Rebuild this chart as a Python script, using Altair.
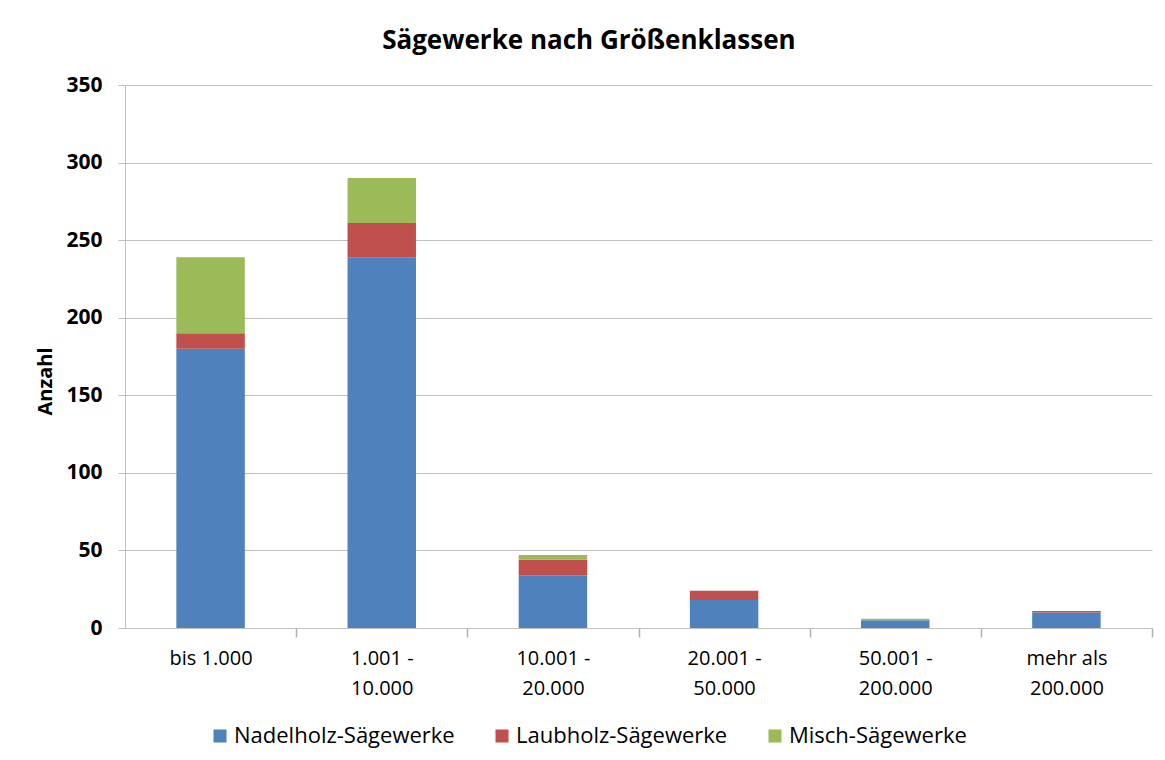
import altair as alt
import pandas as pd

categories = ["bis 1.000", "1.001 -\n10.000", "10.001 -\n20.000",
              "20.001 -\n50.000", "50.001 -\n200.000", "mehr als\n200.000"]
series = ["Nadelholz-Sägewerke", "Laubholz-Sägewerke", "Misch-Sägewerke"]
nadelholz = [180, 239, 34, 18, 5, 10]
laubholz = [10, 22, 10, 6, 0, 1]
misch = [49, 29, 3, 0, 1, 0]
colors = ["#4F81BD", "#C0504D", "#9BBB59"]

rows = []
for i, c in enumerate(categories):
    for k, (s, vals) in enumerate(zip(series, [nadelholz, laubholz, misch])):
        rows.append({"Klasse": c, "Typ": s, "Anzahl": vals[i], "ord": k})
df = pd.DataFrame(rows)

FONT = "Open Sans"
GRID = "#BFBFBF"
W = 1027
STEP = W / len(categories)

chart = alt.Chart(df).mark_bar().encode(
    x=alt.X("Klasse:N", sort=categories, title=None,
            scale=alt.Scale(paddingInner=0.6, paddingOuter=0.3),
            axis=alt.Axis(labelExpr="split(datum.label, '\\n')", labelAngle=0,
                          ticks=True, tickOffset=STEP / 2, labelOffset=-STEP / 2,
                          tickSize=9, tickColor="#B0B0B0", tickWidth=1.5,
                          domainColor=GRID, labelPadding=11, labelBaseline="top",
                          labelLineHeight=30, labelFont=FONT, labelFontSize=20,
                          labelColor="#000000", grid=False)),
    y=alt.Y("Anzahl:Q", title="Anzahl",
            scale=alt.Scale(domain=[0, 350]),
            axis=alt.Axis(values=list(range(0, 351, 50)), tickSize=7,
                          tickColor=GRID, domainColor=GRID, gridColor=GRID,
                          labelPadding=16, labelFont=FONT, labelFontSize=21,
                          labelFontWeight="bold", labelColor="#000000",
                          titleFont=FONT, titleFontSize=20, titleFontWeight="bold",
                          titleColor="#000000", titleX=-80, titleY=296,
                          titleAngle=270, titleAlign="center",
                          titleBaseline="middle")),
    color=alt.Color("Typ:N", sort=series,
                    scale=alt.Scale(domain=series, range=colors),
                    legend=alt.Legend(title=None, orient="none", direction="horizontal",
                                      legendX=84, legendY=640, symbolType="square",
                                      symbolSize=170, symbolStrokeWidth=0,
                                      labelFont=FONT, labelFontSize=22, labelLimit=0,
                                      labelColor="#000000", columnPadding=36,
                                      labelOffset=3)),
    order=alt.Order("ord:Q"),
).properties(
    width=W, height=543,
    title=alt.TitleParams("Sägewerke nach Größenklassen", font=FONT, fontSize=26,
                          fontWeight="bold", anchor="middle", frame="bounds",
                          offset=20, dx=-5, color="#000000"),
    autosize=alt.AutoSizeParams(type="none"),
    padding={"left": 117, "top": 77, "right": 5, "bottom": 124},
).configure_view(stroke=None)

chart.save("out.html", embed_options={"renderer": "svg", "actions": False})
